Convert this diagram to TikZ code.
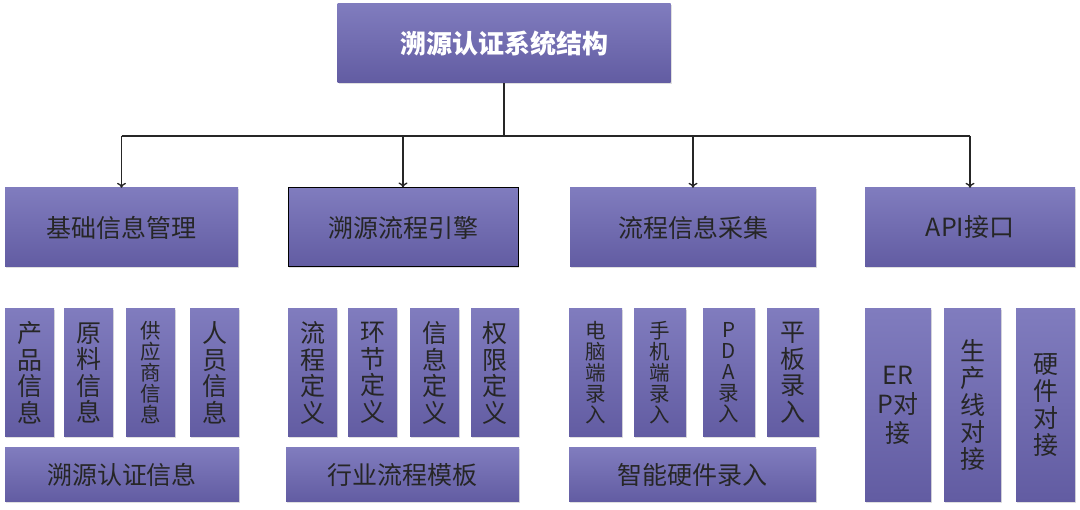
\documentclass[tikz,border=0pt]{standalone}
\usepackage{fontspec}
\setmainfont{Noto Sans CJK SC}
\usetikzlibrary{arrows.meta,shadows}
\definecolor{boxtop}{RGB}{128,124,190}
\definecolor{boxbot}{RGB}{98,92,162}
\tikzset{plate/.style={rectangle,draw=none,top color=boxtop,bottom color=boxbot,
  drop shadow={shadow xshift=1pt,shadow yshift=-1.5pt,opacity=.25},
  inner sep=0pt,text=black!85,align=center,font=\fontsize{25}{28}\selectfont}}
\tikzset{mod/.style={plate,minimum height=79pt}}
\tikzset{item/.style={plate,minimum height=128pt,font=\fontsize{25}{26.5}\selectfont}}
\tikzset{smallitem/.style={item,font=\fontsize{20.5}{21}\selectfont}}
\tikzset{api/.style={plate,minimum height=193pt,font=\fontsize{25}{29}\selectfont}}
\tikzset{bar/.style={plate,minimum height=54pt}}
\tikzset{link/.style={draw=black!85,line width=1.3pt}}

\begin{document}
\begin{tikzpicture}[x=1pt,y=-1pt]
\useasboundingbox[fill=white] (0,0) rectangle (1080,510);

\node[plate,minimum width=333pt,minimum height=79pt,text=white,
  font=\fontsize{26}{28}\selectfont\bfseries] (root) at (504,43.5) {溯源认证系统结构};

\node[mod,minimum width=233pt] (info) at (121.5,227.5) {基础信息管理};
\node[mod,minimum width=230pt,draw=black,line width=1pt] (engine) at (403,227.5) {溯源流程引擎};
\node[mod,minimum width=246pt] (collect) at (693,227.5) {流程信息采集};
\node[mod,minimum width=210pt] (apiport) at (970,227.5) {API接口};

% basic information
\node[item,minimum width=49pt] (product) at (29.5,373) {产\\品\\信\\息};
\node[item,minimum width=49pt] (material) at (88.5,373) {原\\料\\信\\息};
\node[smallitem,minimum width=49pt] (supplier) at (150.5,373) {供\\应\\商\\信\\息};
\node[item,minimum width=49pt] (staff) at (214.5,373) {人\\员\\信\\息};
\node[bar,minimum width=234pt] (certinfo) at (122,475) {溯源认证信息};

% process engine
\node[item,minimum width=49pt] (flowdef) at (312.5,373) {流\\程\\定\\义};
\node[item,minimum width=49pt] (stepdef) at (372.5,373) {环\\节\\定\\义};
\node[item,minimum width=49pt] (infodef) at (434.5,373) {信\\息\\定\\义};
\node[item,minimum width=48pt] (rightdef) at (495,373) {权\\限\\定\\义};
\node[bar,minimum width=233pt] (template) at (402.5,475) {行业流程模板};

% collection
\node[smallitem,minimum width=53pt] (pcinput) at (595.5,373) {电\\脑\\端\\录\\入};
\node[smallitem,minimum width=52pt] (mobinput) at (660,373) {手\\机\\端\\录\\入};
\node[smallitem,minimum width=52pt] (pdainput) at (729,373) {P\\D\\A\\录\\入};
\node[item,minimum width=52pt] (padinput) at (793,373) {平\\板\\录\\入};
\node[bar,minimum width=247pt] (hwinput) at (692.5,475) {智能硬件录入};

% interfaces
\node[api,minimum width=66pt] (erp) at (898,405.5) {ER\\P对\\接};
\node[api,minimum width=57pt,font=\fontsize{25}{27}\selectfont] (line) at (972.5,405.5) {生\\产\\线\\对\\接};
\node[api,minimum width=59pt,font=\fontsize{25}{27}\selectfont] (hardware) at (1045.5,405.5) {硬\\件\\对\\接};

\coordinate (hub) at (504,136);
\draw[link,line width=2pt] (root.south) -- (hub);
\draw[link] (info.north |- hub) -- (apiport.north |- hub);
\draw[link,-{To[length=5pt,width=9pt]}] (info.north |- hub) -- (info.north);
\draw[link,-{To[length=5pt,width=9pt]}] (engine.north |- hub) -- (engine.north);
\draw[link,-{To[length=5pt,width=9pt]}] (collect.north |- hub) -- (collect.north);
\draw[link,-{To[length=5pt,width=9pt]}] (apiport.north |- hub) -- (apiport.north);

\end{tikzpicture}
\end{document}
